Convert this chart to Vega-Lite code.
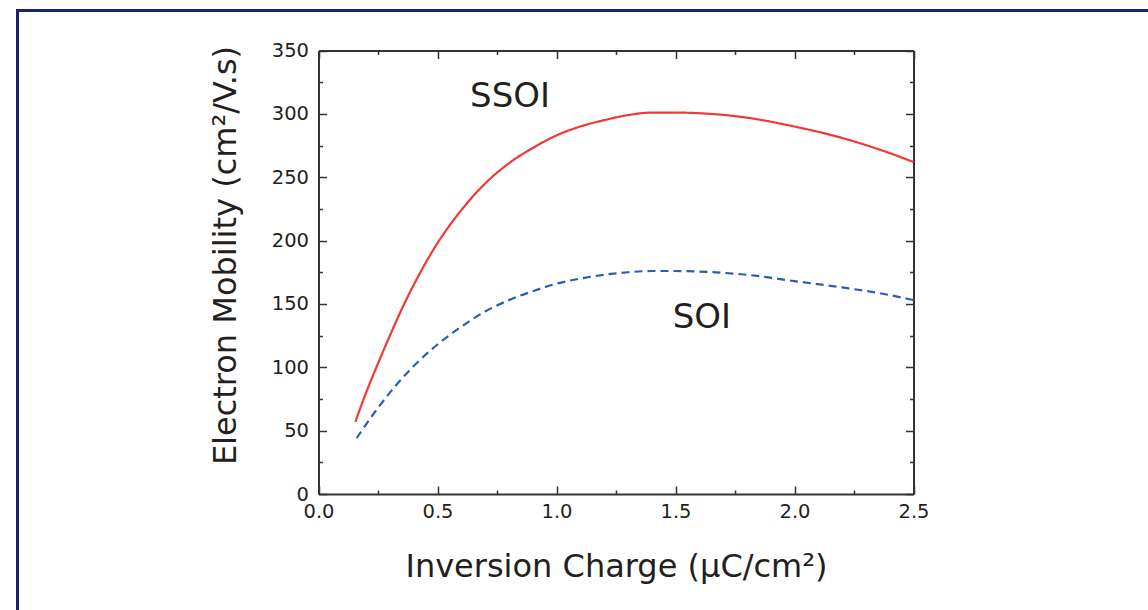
{
  "$schema": "https://vega.github.io/schema/vega-lite/v6.json",
  "width": 1131,
  "height": 600,
  "autosize": {"type": "none"},
  "padding": {"left": 17, "top": 10, "right": 0, "bottom": 0},
  "background": "white",
  "config": {
    "view": {"stroke": null},
    "font": "DejaVu Sans"
  },
  "datasets": {
    "curves": [
      {"series": "SSOI", "q": 0.155, "mu": 57},
      {"series": "SSOI", "q": 0.2, "mu": 80},
      {"series": "SSOI", "q": 0.25, "mu": 103},
      {"series": "SSOI", "q": 0.3, "mu": 125},
      {"series": "SSOI", "q": 0.35, "mu": 146},
      {"series": "SSOI", "q": 0.4, "mu": 165},
      {"series": "SSOI", "q": 0.5, "mu": 198},
      {"series": "SSOI", "q": 0.6, "mu": 224},
      {"series": "SSOI", "q": 0.7, "mu": 245},
      {"series": "SSOI", "q": 0.8, "mu": 261},
      {"series": "SSOI", "q": 0.9, "mu": 273},
      {"series": "SSOI", "q": 1.0, "mu": 283},
      {"series": "SSOI", "q": 1.1, "mu": 290},
      {"series": "SSOI", "q": 1.2, "mu": 295},
      {"series": "SSOI", "q": 1.3, "mu": 299},
      {"series": "SSOI", "q": 1.4, "mu": 301},
      {"series": "SSOI", "q": 1.5, "mu": 301},
      {"series": "SSOI", "q": 1.6, "mu": 300.5},
      {"series": "SSOI", "q": 1.8, "mu": 297},
      {"series": "SSOI", "q": 2.0, "mu": 290},
      {"series": "SSOI", "q": 2.2, "mu": 281},
      {"series": "SSOI", "q": 2.4, "mu": 269},
      {"series": "SSOI", "q": 2.5, "mu": 262},
      {"series": "SOI", "q": 0.16, "mu": 44},
      {"series": "SOI", "q": 0.2, "mu": 55},
      {"series": "SOI", "q": 0.25, "mu": 68},
      {"series": "SOI", "q": 0.3, "mu": 80},
      {"series": "SOI", "q": 0.35, "mu": 91},
      {"series": "SOI", "q": 0.4, "mu": 101},
      {"series": "SOI", "q": 0.5, "mu": 118},
      {"series": "SOI", "q": 0.6, "mu": 132},
      {"series": "SOI", "q": 0.7, "mu": 144},
      {"series": "SOI", "q": 0.8, "mu": 153},
      {"series": "SOI", "q": 0.9, "mu": 160},
      {"series": "SOI", "q": 1.0, "mu": 166},
      {"series": "SOI", "q": 1.1, "mu": 170},
      {"series": "SOI", "q": 1.2, "mu": 173},
      {"series": "SOI", "q": 1.3, "mu": 175},
      {"series": "SOI", "q": 1.4, "mu": 176},
      {"series": "SOI", "q": 1.5, "mu": 176},
      {"series": "SOI", "q": 1.6, "mu": 175.5},
      {"series": "SOI", "q": 1.8, "mu": 173},
      {"series": "SOI", "q": 2.0, "mu": 168},
      {"series": "SOI", "q": 2.2, "mu": 163},
      {"series": "SOI", "q": 2.4, "mu": 157},
      {"series": "SOI", "q": 2.5, "mu": 153}
    ],
    "labels": [
      {"label": "SSOI", "q": 0.805, "mu": 313},
      {"label": "SOI", "q": 1.611, "mu": 139}
    ]
  },
  "resolve": {
    "scale": {"x": "independent", "y": "independent"},
    "axis": {"x": "independent", "y": "independent"}
  },
  "layer": [
    {
      "data": {"name": "curves"},
      "mark": {"type": "line", "interpolate": "monotone", "strokeWidth": 2.2},
      "encoding": {
        "x": {
          "field": "q", "type": "quantitative",
          "scale": {"domain": [0, 2.5], "range": [301.5, 896.5], "nice": false, "zero": false},
          "axis": {
            "orient": "bottom", "offset": -116,
            "values": [0, 0.25, 0.5, 0.75, 1, 1.25, 1.5, 1.75, 2, 2.25, 2.5],
            "labelExpr": "(datum.value * 2) % 1 == 0 ? format(datum.value, '.1f') : ''",
            "labelOverlap": false, "labelFlush": false,
            "labelFontSize": 19.5, "labelColor": "#231f20", "labelFont": "DejaVu Sans",
            "labelPadding": 16,
            "tickSize": {"condition": {"test": "(datum.value * 2) % 1 == 0", "value": -8}, "value": -4},
            "tickColor": "#333333", "tickWidth": 1.5,
            "domainColor": "#333333", "domainWidth": 2,
            "grid": false,
            "title": "Inversion Charge (μC/cm²)",
            "titleFontSize": 32, "titleFontWeight": "normal", "titleColor": "#231f20", "titleFont": "DejaVu Sans",
            "titleBaseline": "alphabetic", "titleX": 599, "titleY": 82
          }
        },
        "y": {
          "field": "mu", "type": "quantitative",
          "scale": {"domain": [0, 350], "range": [484, 40.5], "nice": false, "zero": false},
          "axis": {
            "orient": "left", "offset": -301.5,
            "values": [0, 25, 50, 75, 100, 125, 150, 175, 200, 225, 250, 275, 300, 325, 350],
            "labelExpr": "datum.value % 50 == 0 ? datum.label : ''",
            "labelOverlap": false, "labelFlush": false,
            "labelFontSize": 19.5, "labelColor": "#231f20", "labelFont": "DejaVu Sans",
            "labelPadding": 18,
            "tickSize": {"condition": {"test": "datum.value % 50 == 0", "value": -8}, "value": -4},
            "tickColor": "#333333", "tickWidth": 1.5,
            "domainColor": "#333333", "domainWidth": 2,
            "grid": false,
            "title": "Electron Mobility (cm²/V.s)",
            "titleFontSize": 32, "titleFontWeight": "normal", "titleColor": "#231f20", "titleFont": "DejaVu Sans",
            "titleBaseline": "alphabetic", "titleAngle": -90, "titleX": -83.5, "titleY": 245
          }
        },
        "color": {
          "field": "series", "type": "nominal",
          "scale": {"domain": ["SSOI", "SOI"], "range": ["#ef3a36", "#2c5db3"]},
          "legend": null
        },
        "strokeDash": {
          "field": "series", "type": "nominal",
          "scale": {"domain": ["SSOI", "SOI"], "range": [[1, 0], [8, 5]]},
          "legend": null
        }
      }
    },
    {
      "data": {"name": "labels"},
      "mark": {"type": "text", "fontSize": 34, "font": "DejaVu Sans", "color": "#231f20", "align": "center", "baseline": "middle"},
      "encoding": {
        "x": {
          "field": "q", "type": "quantitative",
          "scale": {"domain": [0, 2.5], "range": [301.5, 896.5], "nice": false, "zero": false},
          "axis": {
            "orient": "top", "offset": -40.5,
            "values": [0, 0.25, 0.5, 0.75, 1, 1.25, 1.5, 1.75, 2, 2.25, 2.5],
            "labels": false, "title": null, "grid": false,
            "tickSize": {"condition": {"test": "(datum.value * 2) % 1 == 0", "value": -8}, "value": -4},
            "tickColor": "#333333", "tickWidth": 1.5,
            "domainColor": "#333333", "domainWidth": 2
          }
        },
        "y": {
          "field": "mu", "type": "quantitative",
          "scale": {"domain": [0, 350], "range": [484, 40.5], "nice": false, "zero": false},
          "axis": {
            "orient": "right", "offset": -234.5,
            "values": [0, 25, 50, 75, 100, 125, 150, 175, 200, 225, 250, 275, 300, 325, 350],
            "labels": false, "title": null, "grid": false,
            "tickSize": {"condition": {"test": "datum.value % 50 == 0", "value": -8}, "value": -4},
            "tickColor": "#333333", "tickWidth": 1.5,
            "domainColor": "#333333", "domainWidth": 2
          }
        },
        "text": {"field": "label", "type": "nominal"}
      }
    },
    {
      "data": {"name": "labels"},
      "mark": {"type": "point", "opacity": 0, "clip": true},
      "encoding": {
        "x": {
          "field": "q", "type": "quantitative",
          "scale": {"domain": [0, 1], "range": [0, 1131], "nice": false, "zero": false},
          "axis": {
            "orient": "top", "offset": 0, "ticks": false, "labels": false, "title": null, "grid": false,
            "domainColor": "#1a2372", "domainWidth": 3, "domainCap": "square"
          }
        },
        "y": {
          "field": "mu", "type": "quantitative",
          "scale": {"domain": [0, 1], "range": [700, 0], "nice": false, "zero": false},
          "axis": {
            "orient": "left", "offset": 0, "ticks": false, "labels": false, "title": null, "grid": false,
            "domainColor": "#1a2372", "domainWidth": 3, "domainCap": "square"
          }
        }
      }
    }
  ]
}
